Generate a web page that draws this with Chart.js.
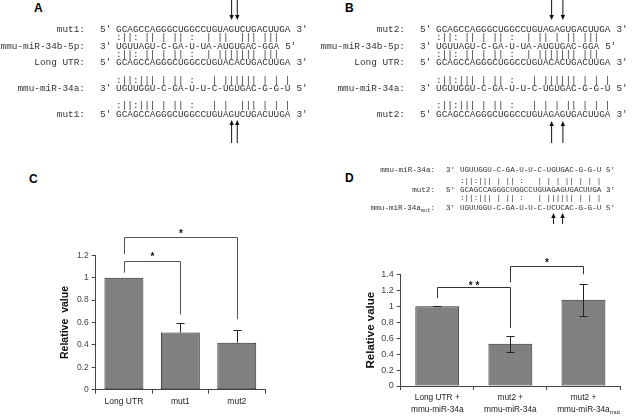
<!DOCTYPE html>
<html>
<head>
<meta charset="utf-8">
<script src="https://cdn.jsdelivr.net/npm/chart.js@4.4.0/dist/chart.umd.min.js"></script>
<style>
html,body{margin:0;padding:0;background:#fff;}
#page{position:relative;width:636px;height:417px;overflow:hidden;background:#fff;}
.t{position:absolute;white-space:pre;font-family:'Liberation Mono','Courier New',monospace;color:#333;}
.t sub{font-size:70%;vertical-align:-2px;line-height:0;}
.lab{position:absolute;font-family:'Liberation Sans',Arial,sans-serif;font-weight:bold;font-size:12px;line-height:12px;color:#000;}
canvas{position:absolute;}
#arrows{position:absolute;left:0;top:0;}
</style>
</head>
<body>
<div id="page">
  <div class="lab" style="left:34px;top:2px">A</div>
  <div class="lab" style="left:345px;top:2px">B</div>
  <div class="lab" style="left:29px;top:173px">C</div>
  <div class="lab" style="left:345px;top:172px">D</div>
  <canvas id="chartC" width="300" height="277" style="left:0;top:140px"></canvas>
  <canvas id="chartD" width="318" height="207" style="left:318px;top:210px"></canvas>
  <svg id="arrows" width="636" height="417"></svg>
</div>
<script>
// ---------------- sequences ----------------
const seqLongUTR   = 'GCAGCCAGGGCUGGCCUGUACACUGACUUGA';
const seqMut1      = 'GCAGCCAGGGCUGGCCUGUAGUCUGACUUGA';
const seqMut2      = 'GCAGCCAGGGCUGGCCUGUAGAGUGACUUGA';
const seqMiR34b    = 'UGUUAGU-C-GA-U-UA-AUGUGAC-GGA';
const seqMiR34a    = 'UGUUGGU-C-GA-U-U-C-UGUGAC-G-G-U';
const seqMiR34aMut = 'UGUUGGU-C-GA-U-U-C-UCUCAC-G-G-U';

const pairMut1_34b  = ':||: || | || :  | ||  ||| |||';
const pairUTR_34b   = ':||: || | || :  | ||||||| |||';
const pairUTR_34a   = ':||:||| | || :   | |||||| | | |';
const pair34a_Mut1  = ':||:||| | || :   | |  ||| | | |';
const pairMut2_34b  = ':||: || | || :  | || | || |||';
const pair34a_Mut2  = ':||:||| | || :   | | | || | | |';
const pairMut2_34aM = ':||:||| | || :   | |||||| | | |';

// ---------------- chart data ----------------
const catsC = ['Long UTR', 'mut1', 'mut2'];
const valuesC = [1.0, 0.51, 0.42];
const errorsC = [null, 0.09, 0.11];
const yTickLabelsC = ['0', '0.2', '0.4', '0.6', '0.8', '1', '1.2'];

const catsD = [['Long UTR +', 'mmu-miR-34a'], ['mut2 +', 'mmu-miR-34a'], ['mut2 +', 'mmu-miR-34a']];
const catSubD = ['', '', 'mut'];
const valuesD = [1.0, 0.53, 1.08];
const errorsD = [0, 0.10, 0.20];
const yTickLabelsD = ['0', '0.2', '0.4', '0.6', '0.8', '1', '1.2', '1.4'];

// significance brackets (value units)
const bracketsC = [
  {from: 0, to: 2, y: 1.36, left: 1.21, right: 0.63, text: '*', textY: 1.41},
  {from: 0, to: 1, y: 1.15, left: 1.045, right: 0.67, text: '*', textY: 1.205}
];
const bracketsD = [
  {from: 0, to: 1, y: 1.24, left: 1.10, right: 0.73, text: '* *', textY: 1.29},
  {from: 1, to: 2, y: 1.51, left: 1.30, right: 1.40, text: '*', textY: 1.575}
];

// ---------------- alignment text ----------------
const page = document.getElementById('page');
function addText(html, x, yc, size, align) {
  const d = document.createElement('div');
  d.className = 't';
  d.style.fontSize = size + 'px';
  d.style.lineHeight = size + 'px';
  d.style.top = (yc - 0.45 * size) + 'px';
  if (align === 'right') d.style.right = (636 - x) + 'px';
  else d.style.left = x + 'px';
  d.innerHTML = html;
  page.appendChild(d);
}
function alignmentBlock(cfg) {
  const cw = cfg.size * 0.6;
  cfg.rows.forEach(r => {
    if (r.pair) {
      addText(r.pair, cfg.seqX, r.y, cfg.size);
    } else {
      addText(r.label, cfg.labelRight, r.y, cfg.size, 'right');
      addText(r.p1, cfg.primeX, r.y, cfg.size);
      addText(r.seq, cfg.seqX, r.y, cfg.size);
      addText(r.p2, cfg.seqX + (r.seq.length + 1) * cw, r.y, cfg.size);
    }
  });
  return cw;
}
const rowY = [29, 37.5, 46, 54, 62.5, 80, 88.5, 105, 114];
function panelRows(mut, pairTop, pairBottom, mutName) {
  return [
    {label: mutName + ':', p1: "5'", seq: mut, p2: "3'", y: rowY[0]},
    {pair: pairTop, y: rowY[1]},
    {label: 'mmu-miR-34b-5p:', p1: "3'", seq: seqMiR34b, p2: "5'", y: rowY[2]},
    {pair: pairUTR_34b, y: rowY[3]},
    {label: 'Long UTR:', p1: "5'", seq: seqLongUTR, p2: "3'", y: rowY[4]},
    {pair: pairUTR_34a, y: rowY[5]},
    {label: 'mmu-miR-34a:', p1: "3'", seq: seqMiR34a, p2: "5'", y: rowY[6]},
    {pair: pairBottom, y: rowY[7]},
    {label: mutName + ':', p1: "5'", seq: mut, p2: "3'", y: rowY[8]}
  ];
}
const sizeAB = 9.4;
const seqXA = 116, seqXB = 436;
alignmentBlock({size: sizeAB, labelRight: 85, primeX: 100, seqX: seqXA,
  rows: panelRows(seqMut1, pairMut1_34b, pair34a_Mut1, 'mut1')});
alignmentBlock({size: sizeAB, labelRight: 405, primeX: 420, seqX: seqXB,
  rows: panelRows(seqMut2, pairMut2_34b, pair34a_Mut2, 'mut2')});

const sizeD = 7.6, seqXD = 460;
alignmentBlock({size: sizeD, labelRight: 435, primeX: 446, seqX: seqXD, rows: [
  {label: 'mmu-miR-34a:', p1: "3'", seq: seqMiR34a, p2: "5'", y: 170.5},
  {pair: pair34a_Mut2, y: 181.5},
  {label: 'mut2:', p1: "5'", seq: seqMut2, p2: "3'", y: 190},
  {pair: pairMut2_34aM, y: 198.5},
  {label: 'mmu-miR-34a<sub>mut</sub>:', p1: "3'", seq: seqMiR34aMut, p2: "5'", y: 208}
]});

// arrows marking mutated positions
const svg = document.getElementById('arrows');
function arrow(x, yTail, yTip) {
  const ns = 'http://www.w3.org/2000/svg';
  const dir = yTip > yTail ? 1 : -1;
  const head = 5;
  const l = document.createElementNS(ns, 'line');
  l.setAttribute('x1', x); l.setAttribute('x2', x);
  l.setAttribute('y1', yTail); l.setAttribute('y2', yTip - dir * head);
  l.setAttribute('stroke', '#111'); l.setAttribute('stroke-width', '1');
  svg.appendChild(l);
  const p = document.createElementNS(ns, 'polygon');
  p.setAttribute('points', `${x - 2.2},${yTip - dir * head} ${x + 2.2},${yTip - dir * head} ${x},${yTip}`);
  p.setAttribute('fill', '#111');
  svg.appendChild(p);
}
const cwAB = sizeAB * 0.6, cwD = sizeD * 0.6;
function colX(seqX, cw, col) { return seqX + (col - 0.5) * cw; }
[21, 22].forEach(c => { arrow(colX(seqXA, cwAB, c), 0, 20); arrow(colX(seqXA, cwAB, c), 143, 120); });
[21, 23].forEach(c => { arrow(colX(seqXB, cwAB, c), 0, 20); arrow(colX(seqXB, cwAB, c), 143, 121); });
[21, 23].forEach(c => { arrow(colX(seqXD, cwD, c), 224, 213); });

// ---------------- chart plugins ----------------
const errorBarPlugin = {
  id: 'errbars',
  afterDatasetsDraw(chart, args, opts) {
    const meta = chart.getDatasetMeta(0);
    const ys = chart.scales.y;
    const ctx = chart.ctx;
    const data = chart.data.datasets[0].data;
    ctx.save();
    ctx.strokeStyle = opts.color;
    ctx.lineWidth = 1;
    meta.data.forEach((bar, i) => {
      const e = opts.errors[i];
      if (e === null || e === undefined) return;
      const v = data[i];
      const x = Math.round(bar.x) + 0.5;
      const yt = Math.round(ys.getPixelForValue(v + e)) + 0.5;
      const yb = opts.both ? Math.round(ys.getPixelForValue(v - e)) + 0.5 : ys.getPixelForValue(v);
      ctx.beginPath();
      ctx.moveTo(x, yt); ctx.lineTo(x, yb);
      ctx.moveTo(x - opts.cap, yt); ctx.lineTo(x + opts.cap, yt);
      if (opts.both) { ctx.moveTo(x - opts.cap, yb); ctx.lineTo(x + opts.cap, yb); }
      ctx.stroke();
    });
    ctx.restore();
  }
};
const bracketPlugin = {
  id: 'brackets',
  afterDraw(chart, args, opts) {
    const xs = chart.scales.x, ys = chart.scales.y, ctx = chart.ctx;
    ctx.save();
    ctx.strokeStyle = opts.color;
    ctx.fillStyle = '#111';
    ctx.lineWidth = 1;
    ctx.font = `bold ${opts.starSize}px "Liberation Sans", Arial, sans-serif`;
    ctx.textAlign = 'center';
    ctx.textBaseline = 'alphabetic';
    opts.items.forEach(b => {
      const x1 = Math.round(xs.getPixelForValue(b.from)) + 0.5;
      const x2 = Math.round(xs.getPixelForValue(b.to)) + 0.5;
      const y = Math.round(ys.getPixelForValue(b.y)) + 0.5;
      ctx.beginPath();
      ctx.moveTo(x1, ys.getPixelForValue(b.left));
      ctx.lineTo(x1, y);
      ctx.lineTo(x2, y);
      ctx.lineTo(x2, ys.getPixelForValue(b.right));
      ctx.stroke();
      ctx.fillText(b.text, (x1 + x2) / 2, ys.getPixelForValue(b.textY) + 0.55 * opts.starSize);
    });
    ctx.restore();
  }
};
const subLabelPlugin = {
  id: 'sublabels',
  afterDraw(chart, args, opts) {
    if (!opts.subs) return;
    const xs = chart.scales.x, ctx = chart.ctx;
    const f = xs.options.ticks.font;
    const lh = f.size * f.lineHeight;
    ctx.save();
    opts.subs.forEach((s, i) => {
      if (!s) return;
      ctx.font = `${f.size}px "Liberation Sans", Arial, sans-serif`;
      const lab = chart.data.labels[i];
      const line = lab[lab.length - 1];
      const w = ctx.measureText(line).width;
      const x = xs.getPixelForTick(i) + w / 2 + 0.3;
      const yc = xs.top + xs.options.grid.tickLength + xs.options.ticks.padding + lh * (lab.length - 0.5);
      ctx.font = `${f.size * 0.72}px "Liberation Sans", Arial, sans-serif`;
      ctx.fillStyle = xs.options.ticks.color;
      ctx.textAlign = 'left';
      ctx.textBaseline = 'middle';
      ctx.fillText(s, x, yc + 3);
    });
    ctx.restore();
  }
};

function makeChart(id, cfg) {
  return new Chart(document.getElementById(id), {
    type: 'bar',
    data: {
      labels: cfg.labels,
      datasets: [{
        data: cfg.values,
        backgroundColor: '#808080',
        borderColor: '#2a2a2a',
        borderWidth: 1,
        borderSkipped: false,
        barPercentage: cfg.barPct,
        categoryPercentage: 1
      }]
    },
    options: {
      responsive: false,
      animation: false,
      events: [],
      layout: {autoPadding: false, padding: cfg.padding},
      plugins: {
        legend: {display: false},
        tooltip: {enabled: false},
        errbars: {errors: cfg.errors, both: cfg.both, cap: cfg.cap, color: '#222'},
        brackets: {items: cfg.brackets, color: cfg.bracketColor, starSize: cfg.starSize},
        sublabels: {subs: cfg.subs}
      },
      scales: {
        x: {
          afterFit: s => { s.height = cfg.xHeight; },
          grid: {drawOnChartArea: false, drawTicks: true, tickLength: 4, color: '#444', offset: true},
          border: {display: true, color: '#444', width: 1},
          ticks: {color: '#222', padding: cfg.xPad, maxRotation: 0, autoSkip: false,
            font: {family: '"Liberation Sans", Arial, sans-serif', size: cfg.xFont, lineHeight: cfg.xLineHeight}}
        },
        y: {
          min: 0, max: cfg.yMax,
          afterFit: s => { s.width = cfg.yWidth; },
          afterBuildTicks: s => {
            s.ticks = cfg.yTicks.map((t, i) => ({value: +(i * 0.2).toFixed(1)}));
          },
          grid: {drawOnChartArea: false, drawTicks: true, tickLength: 4, color: '#444'},
          border: {display: true, color: '#444', width: 1},
          ticks: {color: '#444', padding: 3,
            font: {family: '"Liberation Sans", Arial, sans-serif', size: cfg.yFont},
            callback: (v, i) => cfg.yTicks[i]},
          title: {display: true, text: cfg.title, color: '#111', padding: {top: 0, bottom: 0},
            font: {family: '"Liberation Sans", Arial, sans-serif', size: cfg.titleSize, weight: 'bold', lineHeight: 1.2}}
        }
      }
    },
    plugins: [errorBarPlugin, bracketPlugin, subLabelPlugin]
  });
}

makeChart('chartC', {
  labels: catsC, values: valuesC, errors: errorsC, both: false, cap: 4,
  brackets: bracketsC, bracketColor: '#555', starSize: 10, subs: null,
  barPct: 0.69, padding: {left: 59, right: 35, top: 115.3, bottom: 0},
  xHeight: 27.3, xPad: 3, xFont: 8.5, xLineHeight: 1.2,
  yMax: 1.2, yWidth: 36.7, yTicks: yTickLabelsC, yFont: 8.5,
  title: 'Relative  value', titleSize: 10.5
});
makeChart('chartD', {
  labels: catsD, values: valuesD, errors: errorsD, both: true, cap: 4,
  brackets: bracketsD, bracketColor: '#333', starSize: 10, subs: catSubD,
  barPct: 0.6, padding: {left: 46, right: 16, top: 64.3, bottom: 0},
  xHeight: 31, xPad: 2, xFont: 8.3, xLineHeight: 1.42,
  yMax: 1.4, yWidth: 36.7, yTicks: yTickLabelsD, yFont: 9,
  title: 'Relative value', titleSize: 11.5
});
</script>
</body>
</html>
